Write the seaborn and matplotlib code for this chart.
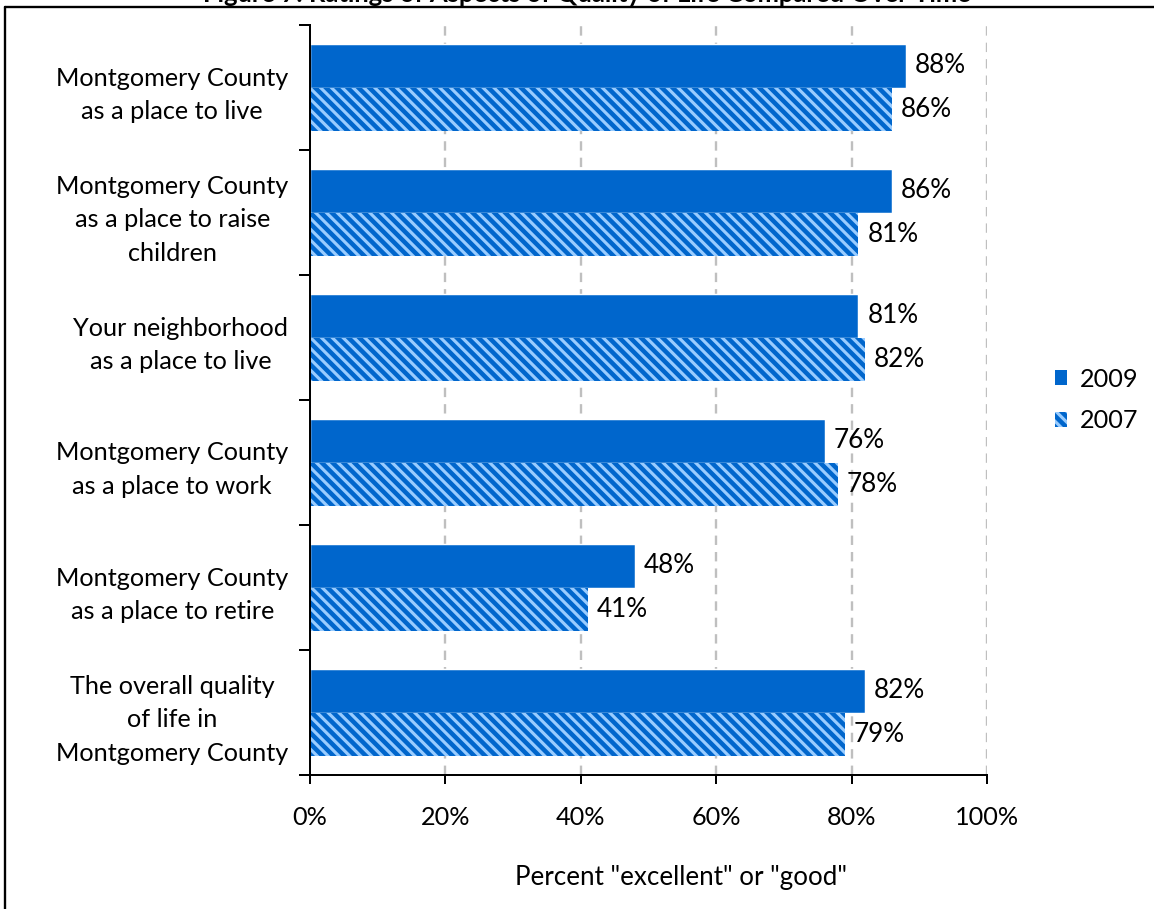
import pandas as pd
import seaborn as sns
import matplotlib.pyplot as plt
from matplotlib.patches import Patch
from matplotlib.lines import Line2D

# data
aspects = [
    "Montgomery County\nas a place to live",
    "Montgomery County\nas a place to raise\nchildren",
    "Your neighborhood\nas a place to live",
    "Montgomery County\nas a place to work",
    "Montgomery County\nas a place to retire",
    "The overall quality\nof life in\nMontgomery County",
]
years = ["2009", "2007"]
pct_2009 = [88, 86, 81, 76, 48, 82]
pct_2007 = [86, 81, 82, 78, 41, 79]
x_ticks = [0, 20, 40, 60, 80, 100]

DARK = "#0066CC"
LIGHT = "#99CCFF"
FONT = ["Lato", "DejaVu Sans"]
HATCH = "\\\\\\\\"
FS = 14

df = pd.DataFrame({
    "aspect": aspects * 2,
    "year": ["2009"] * len(aspects) + ["2007"] * len(aspects),
    "pct": pct_2009 + pct_2007,
})

sns.set_theme(style="white")
plt.rcParams["font.family"] = FONT
plt.rcParams["hatch.linewidth"] = 2.5
plt.rcParams["text.color"] = "black"
plt.rcParams["xtick.color"] = "black"
plt.rcParams["ytick.color"] = "black"

DPI = 130
W, H = 1154, 909
fig = plt.figure(figsize=(W / DPI, H / DPI), dpi=DPI)
ax = fig.add_axes([310 / W, 1 - 775 / H, (987 - 310) / W, (775 - 25) / H])

sns.barplot(data=df, y="aspect", x="pct", hue="year", hue_order=years,
            palette=[DARK, LIGHT], width=0.7, orient="h", saturation=1,
            legend=False, ax=ax)

# hatch the 2007 bars
for bar in ax.containers[1]:
    bar.set_hatch(HATCH)
    bar.set_edgecolor(DARK)
    bar.set_linewidth(0)
for bar in ax.containers[0]:
    bar.set_edgecolor("white")
    bar.set_linewidth(0.8)

for cont, vals in zip(ax.containers, [pct_2009, pct_2007]):
    ax.bar_label(cont, labels=[f"{v}%" for v in vals], padding=5,
                 fontsize=FS + 0.5, color="black")

ax.set_xlim(0, 100)
ax.set_ylim(len(aspects) - 0.5, -0.5)
ax.set_xticks(x_ticks)
ax.set_xticklabels([f"{t}%" for t in x_ticks], fontsize=FS)
ax.tick_params(axis="x", direction="out", length=5, width=1.1, color="black",
               labelcolor="black", pad=12, bottom=True)

# category labels with no tick marks, separators as minor ticks
ax.set_yticks(range(len(aspects)))
ax.set_yticklabels(aspects, fontsize=FS, multialignment="center",
                   linespacing=1.55)
ax.tick_params(axis="y", which="major", length=0, pad=12, labelcolor="black")
ax.set_yticks([i - 0.5 for i in range(len(aspects) + 1)], minor=True)
ax.tick_params(axis="y", which="minor", direction="out", length=6,
               width=1.1, color="black", left=True)

for x in x_ticks[1:]:
    ax.axvline(x, color="#BFBFBF", lw=1.3, ls=(0, (4, 3)), zorder=0)

ax.set_xlabel("")
ax.set_ylabel("")
for side in ["top", "right"]:
    ax.spines[side].set_visible(False)
for side in ["left", "bottom"]:
    ax.spines[side].set_color("black")
    ax.spines[side].set_linewidth(1.1)

fig.text(681 / W, 1 - 877 / H, 'Percent "excellent" or "good"',
         ha="center", va="center", fontsize=FS + 0.4, color="black")

handles = [Patch(facecolor=DARK, edgecolor=DARK, linewidth=0),
           Patch(facecolor=LIGHT, edgecolor=DARK, hatch=HATCH, linewidth=0)]
fig.legend(handles, years, loc="center left",
           bbox_to_anchor=(1032 / W, 1 - 400 / H), frameon=False,
           fontsize=FS, handlelength=0.5, handleheight=0.5,
           handletextpad=0.5, labelspacing=0.75)

# clipped title and frame of the page
fig.text(587 / W, 1 - 2 / H,
         "Figure 7: Ratings of Aspects of Quality of Life Compared Over Time",
         ha="center", va="baseline", fontsize=14.2, fontweight="bold",
         color="black")
fig.add_artist(Line2D([5 / W, 5 / W], [0, 1 - 7 / H], color="black", lw=1.3))
fig.add_artist(Line2D([5 / W, 1], [1 - 7 / H, 1 - 7 / H], color="black", lw=1.3))

fig.savefig("out.png", dpi=DPI)
